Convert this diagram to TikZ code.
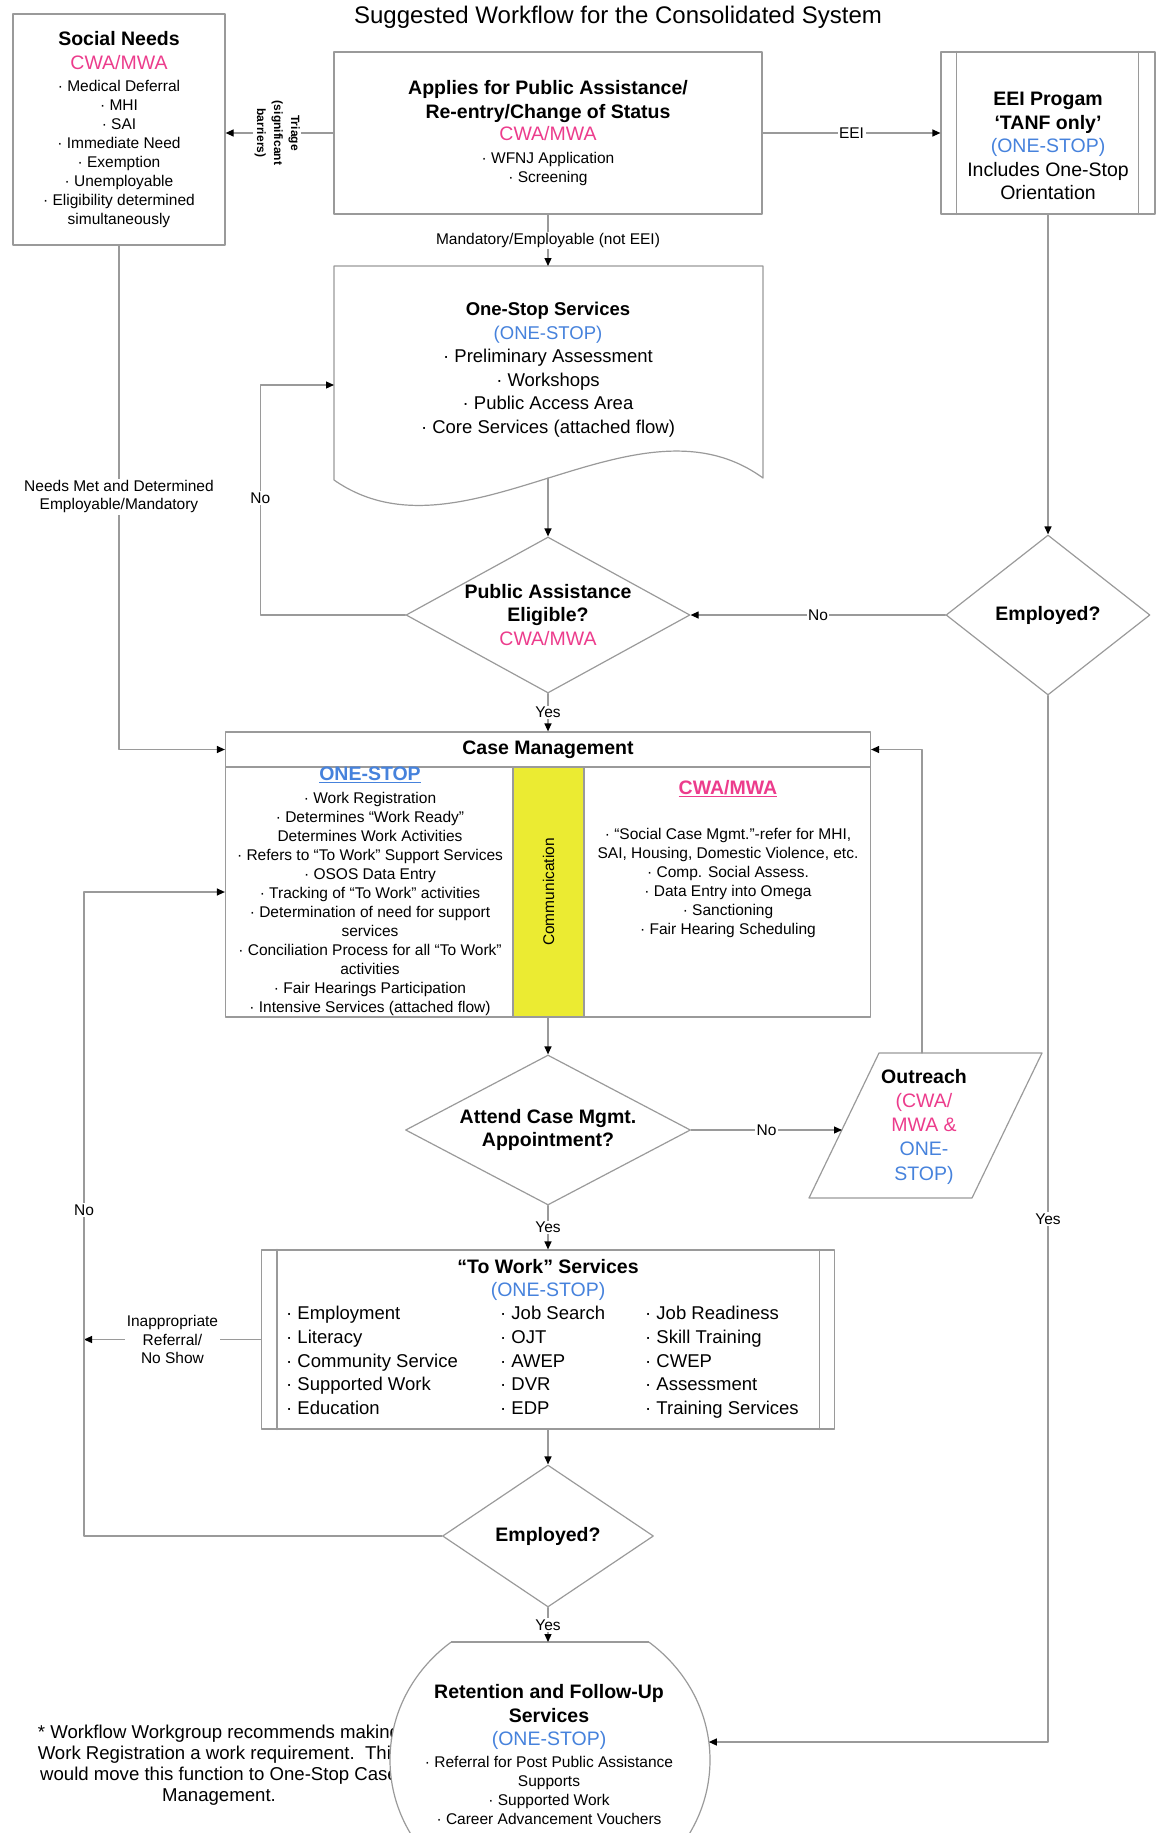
\documentclass[tikz,border=0pt]{standalone}
\usepackage{fontspec}
\setmainfont{Liberation Sans}
\usetikzlibrary{arrows.meta,shapes.geometric}
\definecolor{ectcyc}{rgb}{0.925,0.235,0.549}
\definecolor{uwysdc}{rgb}{0.275,0.51,0.863}
\definecolor{ebebts}{rgb}{0.922,0.922,0.196}
\definecolor{zazaza}{rgb}{0.604,0.604,0.604}
\newcommand{\hdsz}{\fontsize{19.5}{23.5}\selectfont}
\newcommand{\smsz}{\fontsize{15.5}{19}\selectfont}
\newcommand{\lbsz}{\fontsize{15.5}{18.5}\selectfont}
\newcommand{\pk}[1]{\textcolor{ectcyc}{#1}}
\newcommand{\bl}[1]{\textcolor{uwysdc}{#1}}

\begin{document}
\begin{tikzpicture}[line cap=round,line join=round,>={Triangle[length=8pt,width=7pt,color=black]},x=1pt,y=-1pt,
box/.style={draw=zazaza,line width=1.2pt,inner sep=0pt},
dia/.style={diamond,draw=zazaza,line width=1.2pt,inner sep=0pt,align=center,font=\hdsz\bfseries},
lbl/.style={fill=white,inner sep=1.5pt,font=\lbsz,align=center},
con/.style={->,draw=zazaza,line width=1.2pt}]
\useasboundingbox (0,0) rectangle (1159,1833);
\clip (0,0) rectangle (1159,1833);
\node[font=\fontsize{24}{28}\selectfont] (title) at (618,17.5) {Suggested Workflow for the Consolidated System};
\node[box,minimum width=212,minimum height=231,align=center,font=\smsz] (social) at (119,129.5) {{\hdsz\bfseries Social Needs}\\[5.5pt] {\hdsz\pk{CWA/MWA}}\\[3pt] · Medical Deferral\\ · MHI\\ · SAI\\ · Immediate Need\\ · Exemption\\ · Unemployable\\ · Eligibility determined\\ simultaneously};
\node[box,minimum width=428,minimum height=162,align=center,font=\hdsz] (applies) at (548,133) {{\bfseries Applies for Public Assistance/}\\[0.5pt] {\bfseries Re-entry/Change of Status}\\[-1pt] \pk{CWA/MWA}\\[-1pt] {\smsz · WFNJ Application}\\[-4pt] {\smsz · Screening}};
\node[box,minimum width=214,minimum height=162] (eei) at (1048,133) {};
\draw[zazaza,line width=1.2pt] ([xshift=16pt]eei.north west) -- ([xshift=16pt]eei.south west);
\draw[zazaza,line width=1.2pt] ([xshift=-17pt]eei.north east) -- ([xshift=-17pt]eei.south east);
\node[align=center,font=\hdsz] (eeitxt) at (1048,146) {{\bfseries EEI Progam}\\ {\bfseries `TANF only'}\\ \bl{(ONE-STOP)}\\ Includes One-Stop\\ Orientation};
\draw[zazaza,line width=1.2pt,fill=white] (763,478) -- (763,266) -- (334,266) -- (334,480) .. controls (463,570) and (635,385) .. (763,478) -- cycle;
\coordinate (osN) at (548,266);
\coordinate (osW) at (334,385);
\coordinate (osS) at (548,478);
\node[align=center,font=\fontsize{18.5}{23.6}\selectfont] (onestop) at (548,369.7) {{\bfseries One-Stop Services}\\ \bl{(ONE-STOP)}\\ · Preliminary Assessment\\ · Workshops\\ · Public Access Area\\ · Core Services (attached flow)};
\node[dia,aspect=1.82,minimum width=284,minimum height=156] (pa) at (548,615) {Public Assistance\\ Eligible?\\ {\mdseries\pk{CWA/MWA}}};
\node[dia,aspect=1.275,minimum width=204,minimum height=160] (emp1) at (1048,615) {Employed?};
\node[box,minimum width=645,minimum height=35,font=\hdsz\bfseries] (cmh) at (548,749.5) {Case Management};
\node[box,minimum width=645,minimum height=250] (cmb) at (548,892) {};
\filldraw[fill=ebebts,draw=zazaza,line width=1.2pt] (513,767) rectangle (584,1017);
\node[rotate=90,font=\smsz] (comm) at (548.5,892) {Communication};
\node[align=center,font=\smsz] (cmos) at (370,891.6) {{\hdsz\bfseries\color{uwysdc}\underline{ONE-STOP}}\\[4pt] · Work Registration\\ · Determines ``Work Ready''\\ Determines Work Activities\\ · Refers to ``To Work'' Support Services\\ · OSOS Data Entry\\ · Tracking of ``To Work'' activities\\ · Determination of need for support\\ services\\ · Conciliation Process for all ``To Work''\\ activities\\ · Fair Hearings Participation\\ · Intensive Services (attached flow)};
\node[align=center,font=\smsz] (cmcw) at (728,859) {{\hdsz\bfseries\color{ectcyc}\underline{CWA/MWA}}\\[26pt] · ``Social Case Mgmt.''-refer for MHI,\\ SAI, Housing, Domestic Violence, etc.\\ · Comp. Social Assess.\\ · Data Entry into Omega\\ · Sanctioning\\ · Fair Hearing Scheduling};
\node[dia,aspect=1.9,minimum width=285,minimum height=150] (att) at (548,1130) {Attend Case Mgmt.\\ Appointment?};
\draw[zazaza,line width=1.2pt] (879,1053) -- (1042,1053) -- (972,1198) -- (809,1198) -- cycle;
\coordinate (orN) at (922,1053);
\coordinate (orW) at (842,1130);
\node[align=center,font=\fontsize{19.5}{24.2}\selectfont] (outreach) at (924,1126.7) {{\bfseries Outreach}\\ \pk{(CWA/}\\ \pk{MWA \&}\\ \bl{ONE-}\\ \bl{STOP)}};
\node[box,minimum width=573,minimum height=179] (tw) at (548,1339.5) {};
\draw[zazaza,line width=1.2pt] ([xshift=16pt]tw.north west) -- ([xshift=16pt]tw.south west);
\draw[zazaza,line width=1.2pt] ([xshift=-16pt]tw.north east) -- ([xshift=-16pt]tw.south east);
\node[align=center,font=\hdsz] (twh) at (548,1280.2) {{\bfseries ``To Work'' Services}\\[-0.5pt] \bl{(ONE-STOP)}};
\node[anchor=north west,align=left,inner sep=0pt,font=\fontsize{18.5}{23.7}\selectfont] (twa) at (286,1306) {· Employment\\ · Literacy\\ · Community Service\\ · Supported Work\\ · Education};
\node[anchor=north west,align=left,inner sep=0pt,font=\fontsize{18.5}{23.7}\selectfont] (twb) at (500,1306) {· Job Search\\ · OJT\\ · AWEP\\ · DVR\\ · EDP};
\node[anchor=north west,align=left,inner sep=0pt,font=\fontsize{18.5}{23.7}\selectfont] (twc) at (645,1306) {· Job Readiness\\ · Skill Training\\ · CWEP\\ · Assessment\\ · Training Services};
\node[dia,aspect=1.49,minimum width=211,minimum height=142] (emp2) at (548,1536) {Employed?};
\coordinate (lft) at (84,1536);
\node[align=center,font=\fontsize{18.6}{21}\selectfont] (note) at (219,1764.9) {* Workflow Workgroup recommends making\\ Work Registration a work requirement.\ \ This\\ would move this function to One-Stop Case\\ Management.};
\begin{scope}
\clip (380,1642) rectangle (720,1850);
\filldraw[draw=zazaza,fill=white,line width=1.2pt] (550,1760) ellipse [x radius=160,y radius=150];
\end{scope}
\draw[zazaza,line width=1.2pt] (451.2,1642) -- (648.8,1642);
\coordinate (retN) at (548,1642);
\coordinate (retE) at (708.8,1742);
\node[align=center,font=\smsz] (ret) at (549,1754.5) {{\hdsz\bfseries Retention and Follow-Up}\\[5pt] {\hdsz\bfseries Services}\\[4pt] {\hdsz\bl{(ONE-STOP)}}\\[3pt] · Referral for Post Public Assistance\\ Supports\\ · Supported Work\\ · Career Advancement Vouchers};
\draw[con] (applies.west) -- node[lbl,pos=0.52,rotate=-90,font=\fontsize{12}{17}\selectfont\bfseries]{Triage\\(significant\\barriers)} (applies.west -| social.east);
\draw[con] (applies.east) -- node[lbl]{EEI} (eei.west);
\draw[con] (applies.south) -- node[lbl]{Mandatory/Employable (not EEI)} (osN);
\draw[con] (osS) -- (pa.north);
\draw[con] (pa.west) -- ++(-145,0) |- node[lbl,pos=0.254]{No} (osW);
\draw[con] (eei.south) -- (emp1.north);
\draw[con] (emp1.west) -- node[lbl]{No} (pa.east);
\draw[con] (emp1.south) |- node[lbl,pos=0.25]{Yes} (retE);
\draw[con] (social.south) |- node[lbl,pos=0.249]{Needs Met and Determined\\Employable/Mandatory} (cmh.west);
\draw[con] (pa.south) -- node[lbl]{Yes} (cmh.north);
\draw[con] (cmb.south) -- (att.north);
\draw[con] (att.east) -- node[lbl]{No} (att.east -| orW);
\draw[con] (orN) |- (cmh.east);
\draw[con] (att.south) -- node[lbl]{Yes} (tw.north);
\draw[con] (tw.west) -- node[lbl]{Inappropriate\\Referral/\\No Show} (tw.west -| lft);
\draw[con] (tw.south) -- (emp2.north);
\draw[con] (emp2.west) -- (lft) |- node[lbl,pos=0.253]{No} (cmb.west);
\draw[con] (emp2.south) -- node[lbl]{Yes} (retN);
\end{tikzpicture}
\end{document}
